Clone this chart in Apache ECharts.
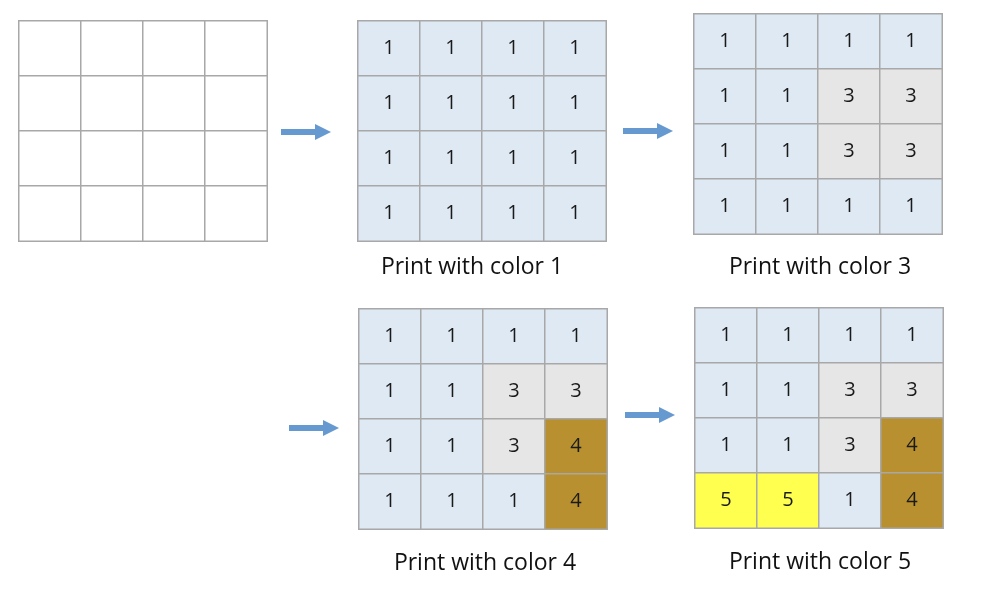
<!DOCTYPE html>
<html>
<head>
<meta charset="utf-8">
<style>
  html, body { margin: 0; padding: 0; background: #fff; }
  #chart { width: 982px; height: 594px; }
</style>
<script src="https://cdn.jsdelivr.net/npm/echarts@6/dist/echarts.min.js"></script>
</head>
<body>
<div id="chart"></div>
<script>
// 4x4 boards, row by row from the top (0 = not printed yet)
let cols = ['0', '1', '2', '3'];
let rows = ['0', '1', '2', '3'];
let boardEmpty = [
    [0, 0, 0, 0],
    [0, 0, 0, 0],
    [0, 0, 0, 0],
    [0, 0, 0, 0]
];
let boardColor1 = [
    [1, 1, 1, 1],
    [1, 1, 1, 1],
    [1, 1, 1, 1],
    [1, 1, 1, 1]
];
let boardColor3 = [
    [1, 1, 1, 1],
    [1, 1, 3, 3],
    [1, 1, 3, 3],
    [1, 1, 1, 1]
];
let boardColor4 = [
    [1, 1, 1, 1],
    [1, 1, 3, 3],
    [1, 1, 3, 4],
    [1, 1, 1, 4]
];
let boardColor5 = [
    [1, 1, 1, 1],
    [1, 1, 3, 3],
    [1, 1, 3, 4],
    [5, 5, 1, 4]
];
let captions = ['', 'Print with color 1', 'Print with color 3', 'Print with color 4', 'Print with color 5'];

let boards = [boardEmpty, boardColor1, boardColor3, boardColor4, boardColor5];
// box of each board on the page
let boxes = [
    {left: 19, top: 21},
    {left: 358, top: 21},
    {left: 694, top: 14},
    {left: 359, top: 309},
    {left: 695, top: 308}
];
let captionPos = [null, [472, 267], [820, 267], [485, 563], [820, 562]];
// arrows: [x, y] of the tail
let arrows = [[281, 132], [623, 131], [289, 428], [625, 415]];

let fill = {0: '#ffffff', 1: '#dfe9f4', 3: '#e6e6e6', 4: '#b8902f', 5: '#ffff4f'};

let chart = echarts.init(document.getElementById('chart'));

let grids = [], xAxes = [], yAxes = [], series = [], graphics = [];
boards.forEach(function (b, i) {
    grids.push({left: boxes[i].left, top: boxes[i].top, width: 248, height: 220});
    xAxes.push({type: 'category', data: cols, gridIndex: i, show: false});
    yAxes.push({type: 'category', data: rows, gridIndex: i, show: false, inverse: true});
    let data = [];
    b.forEach(function (row, r) {
        row.forEach(function (v, c) {
            data.push({
                value: [c, r, v],
                itemStyle: {color: fill[v]}
            });
        });
    });
    series.push({
        type: 'heatmap',
        xAxisIndex: i,
        yAxisIndex: i,
        data: data,
        itemStyle: {borderColor: '#a8a8a8', borderWidth: 1.5},
        label: {
            show: true,
            color: '#1a1a1a',
            fontSize: 20,
            fontFamily: 'Open Sans',
            formatter: function (p) { return p.value[2] ? String(p.value[2]) : ''; }
        },
        emphasis: {disabled: true}
    });
    if (captions[i]) {
        graphics.push({
            type: 'text',
            x: captionPos[i][0],
            y: captionPos[i][1],
            style: {
                text: captions[i],
                align: 'center',
                verticalAlign: 'middle',
                fontSize: 23,
                fontFamily: 'Open Sans',
                fill: '#111'
            }
        });
    }
});

arrows.forEach(function (a) {
    let x = a[0], y = a[1];
    graphics.push({
        type: 'polygon',
        shape: {
            points: [
                [x, y - 3], [x + 34, y - 3], [x + 34, y - 8],
                [x + 50, y], [x + 34, y + 8], [x + 34, y + 3], [x, y + 3]
            ]
        },
        style: {fill: '#6699d0'}
    });
});

chart.setOption({
    backgroundColor: '#fff',
    animation: false,
    grid: grids,
    xAxis: xAxes,
    yAxis: yAxes,
    series: series,
    graphic: graphics
});
</script>
</body>
</html>
